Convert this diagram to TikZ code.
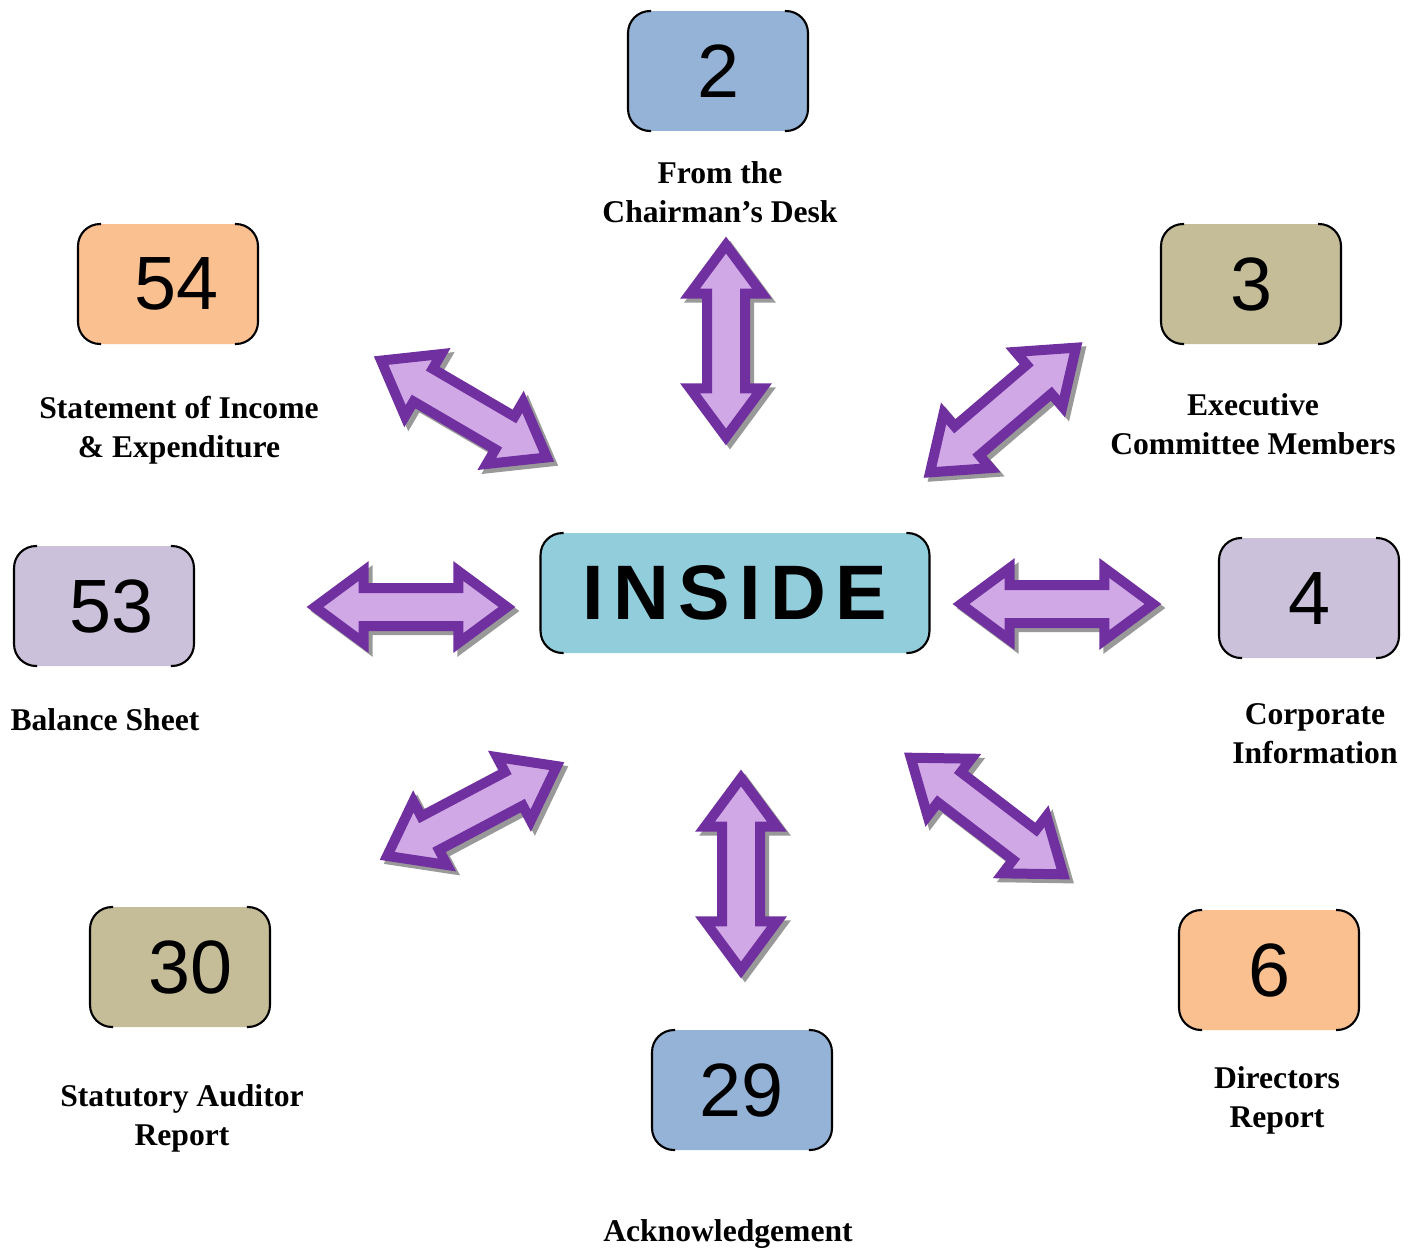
\documentclass[tikz,border=0pt]{standalone}
\usepackage{fontspec}
\setmainfont{Liberation Serif}
\setsansfont{Liberation Sans}
\usetikzlibrary{shapes.arrows, shadows}
\definecolor{boxblue}{HTML}{95B3D7}
\definecolor{boxorange}{HTML}{FAC090}
\definecolor{boxtan}{HTML}{C4BD97}
\definecolor{boxlilac}{HTML}{CCC1DA}
\definecolor{boxcyan}{HTML}{92CDDC}
\definecolor{arrowline}{HTML}{7030A0}
\definecolor{arrowfill}{HTML}{D0A8E6}
\tikzstyle{page} =[rectangle, rounded corners=0.44cm, minimum width=3.6cm, minimum height=2.4cm, inner sep=0pt, outer sep=0pt, font=\sffamily\fontsize{43}{43}\selectfont]
\tikzstyle{title} =[page, minimum width=7.78cm, fill=boxcyan, font=\sffamily\bfseries\fontsize{44}{44}\selectfont\addfontfeature{LetterSpace=12}]
\tikzstyle{caption} =[align=center, inner sep=0pt, font=\bfseries\fontsize{18}{22.2}\selectfont]
\tikzstyle{side} =[line width=1.2pt, rounded corners=0.44cm]
\tikzstyle{both} =[double arrow, draw=arrowline, fill=arrowfill, line width=0.2cm, double arrow tip angle=73, double arrow head extend=0.34cm, minimum height=3.84cm, inner xsep=0pt, inner ysep=0.28cm, drop shadow={fill=black!40, draw=black!40, line width=0.2cm, shadow xshift=0.08cm, shadow yshift=-0.08cm, opacity=1}]
\begin{document}
\begin{tikzpicture}[x=0.02cm, y=-0.02cm]
\useasboundingbox (0,0) rectangle (1416,1249);
% centre and the eight pages
\node (inside) [title] at (735,593) {\raisebox{-0.08cm}{INSIDE}};
\node (p2) [page, fill=boxblue] at (718,71) {2};
\node (p3) [page, fill=boxtan] at (1251,284) {3};
\node (p4) [page, fill=boxlilac] at (1309,598) {4};
\node (p6) [page, fill=boxorange] at (1269,970) {6};
\node (p29) [page, fill=boxblue] at (742,1090) {29};
\node (p30) [page, fill=boxtan] at (180,967) {\hspace{0.44cm}30};
\node (p53) [page, fill=boxlilac] at (104,606) {\hspace{0.32cm}53};
\node (p54) [page, fill=boxorange] at (168,284) {\hspace{0.36cm}54};
\foreach \b in {inside,p2,p3,p4,p6,p29,p30,p53,p54}{
  \draw [side] ([xshift=0.46cm]\b.north west) -- (\b.north west) -- (\b.south west) -- ([xshift=0.46cm]\b.south west);
  \draw [side] ([xshift=-0.46cm]\b.north east) -- (\b.north east) -- (\b.south east) -- ([xshift=-0.46cm]\b.south east);
}
% captions
\node (c2) [caption] at (720,192) {From the\\Chairman’s Desk};
\node (c3) [caption] at (1253,424) {Executive\\Committee Members};
\node (c4) [caption] at (1315,734) {Corporate\\Information};
\node (c6) [caption] at (1277,1100) {Directors\\Report};
\node (c29) [caption] at (728,1234) {Acknowledgement};
\node (c30) [caption] at (182,1118) {Statutory Auditor\\Report};
\node (c53) [caption] at (105,720) {Balance Sheet};
\node (c54) [caption] at (179,430) {Statement of Income\\\& Expenditure};
% arrows
\node (a2) [both, rotate=90] at (726,341) {};
\node (a3) [both, rotate=40.5] at (1003,410) {};
\node (a4) [both] at (1057,604) {};
\node (a6) [both, rotate=-37.4] at (987,816) {};
\node (a29) [both, rotate=90] at (741,874) {};
\node (a30) [both, rotate=27.9] at (472,811) {};
\node (a53) [both] at (411,607) {};
\node (a54) [both, rotate=-30.3] at (464,409) {};
\end{tikzpicture}
\end{document}
